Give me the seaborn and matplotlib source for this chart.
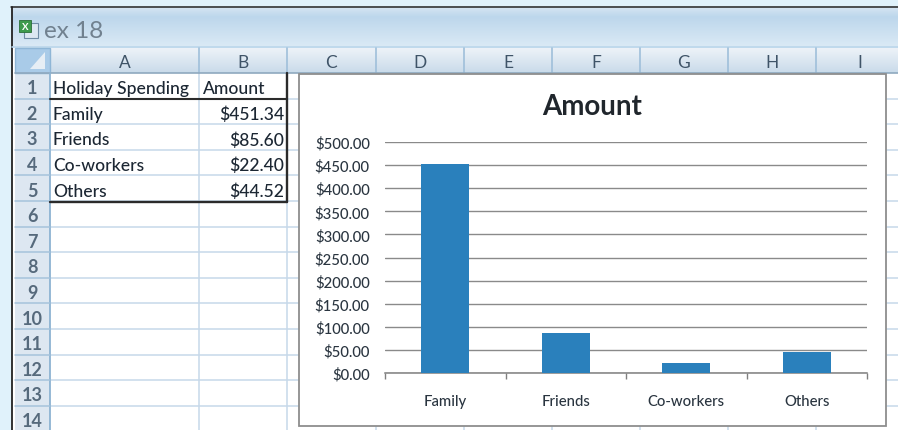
import numpy as np
import pandas as pd
import matplotlib.pyplot as plt
from matplotlib.patches import Rectangle, Polygon
import seaborn as sns

# --- DATA ---
categories = ["Family", "Friends", "Co-workers", "Others"]
amounts = [451.34, 85.60, 22.40, 44.52]
amount_labels = ["$451.34", "$85.60", "$22.40", "$44.52"]
y_ticks = [0, 50, 100, 150, 200, 250, 300, 350, 400, 450, 500]
table_header = ["Holiday Spending", "Amount"]
col_letters = ["A", "B", "C", "D", "E", "F", "G", "H", "I"]
row_numbers = list(range(1, 15))
chart_title = "Amount"
window_title = "ex 18"

# --- LAYOUT (pixels) ---
W, H = 898, 431
col_edges = [50, 199, 287, 376, 464, 552, 640, 728, 816, 904]
row_top = 74
row_h = 25.6
grid_c = "#C6D8E9"
font = "Lato"

sns.set_theme(style="white")
plt.rcParams['font.family'] = [font, 'DejaVu Sans']

fig = plt.figure(figsize=(W / 100, H / 100), dpi=100)
fig.patch.set_facecolor("#E0F2FB")

# --- Spreadsheet window behind the chart ---
bg = fig.add_axes([0, 0, 1, 1])
bg.set_xlim(0, W)
bg.set_ylim(H, 0)
bg.axis("off")


def gradient(x0, x1, y0, y1, top, bottom):
    grad = sns.blend_palette([top, bottom], 32)
    img = np.array(grad).reshape(32, 1, 3)
    bg.imshow(img, extent=[x0, x1, y1, y0], aspect="auto", zorder=1)


bg.add_patch(Rectangle((12, 9), W, H, fc="white", ec="none", zorder=0.5))
gradient(12, W, 9, 18, "#D3E4F2", "#BDD7EC")
gradient(12, W, 18, 47, "#BDD7EC", "#DAE9F5")
bg.plot([11, W], [8, 8], color="#222222", lw=1.1, zorder=3)
bg.plot([11.5, 11.5], [8, H], color="#222222", lw=1.3, zorder=3)
bg.plot([12, W], [47.5, 47.5], color="#B4D2E9", lw=1.2, zorder=3)

# excel icon
bg.add_patch(Rectangle((24, 24), 14, 15, fc="#DCE8F2", ec="#6F8CA5", lw=0.8, zorder=3))
bg.add_patch(Rectangle((19, 21), 12, 12, fc="#3E9A4D", ec="#2A6E38", lw=0.6, zorder=4))
bg.text(25, 27.5, "X", color="white", fontsize=7, fontweight="bold", ha="center", va="center", zorder=5)
bg.text(44, 31.5, window_title, color="#71818F", fontsize=17.5, ha="left", va="center", zorder=5)

# column header
gradient(50, W, 49, 74, "#EDF2F8", "#C9DBEA")
bg.add_patch(Rectangle((15, 49), 35, 25, fc="#A9CBE8", ec="#8FB6D6", lw=1, zorder=3))
bg.add_patch(Polygon([[45, 53], [45, 70], [30, 70]], fc="#E6EEF5", ec="none", zorder=4))
for i, letter in enumerate(col_letters):
    x0, x1 = col_edges[i], col_edges[i + 1]
    bg.plot([x1 - 0.5, x1 - 0.5], [49, 74], color="#9FBFDA", lw=1.2, zorder=3)
    xc = (x0 + x1) / 2 if i < 8 else 860
    bg.text(xc, 63, letter, color="#3F5468", fontsize=12.5, ha="center", va="center", zorder=5)
bg.plot([15, W], [74, 74], color="#8FA9BF", lw=1.2, zorder=3)

# row header and grid
bg.add_patch(Rectangle((15, 74), 35, H - 74, fc="#DDE7F1", ec="none", zorder=2))
bg.plot([50, 50], [74, H], color="#8DB3D2", lw=1.3, zorder=3)
for i, n in enumerate(row_numbers):
    y0 = row_top + i * row_h
    y1 = y0 + row_h
    bg.plot([15, 50], [y1, y1], color="#A5C3DC", lw=1.1, zorder=3)
    bg.plot([50, W], [y1, y1], color=grid_c, lw=1.1, zorder=2)
    bg.text(32, (y0 + y1) / 2 + 2, str(n), color="#3F5468", fontsize=13, fontweight="bold",
            ha="center", va="center", zorder=5, alpha=0.85)
for x in col_edges[1:-1]:
    bg.plot([x - 0.5, x - 0.5], [74, H], color=grid_c, lw=1.1, zorder=2)

# table cells
ink = "#1C2733"
cell_y = lambda r: row_top + (r + 0.5) * row_h + 2.5
bg.text(53, cell_y(0), table_header[0], color=ink, fontsize=12.6, fontweight="medium", va="center", zorder=5)
bg.text(203, cell_y(0), table_header[1], color=ink, fontsize=12.6, fontweight="medium", va="center", zorder=5)
for r, (cat, lab) in enumerate(zip(categories, amount_labels), start=1):
    bg.text(53, cell_y(r), cat, color=ink, fontsize=12.6, fontweight="medium", va="center", zorder=5)
    bg.text(284.5, cell_y(r), lab, color=ink, fontsize=12.6, fontweight="medium", ha="right", va="center", zorder=5)
bg.plot([50, 286.5], [100, 100], color="#2B2B2B", lw=1.5, zorder=6)
bg.plot([50, 286.5], [202.5, 202.5], color="#2B2B2B", lw=1.7, zorder=6)
bg.plot([286.5, 286.5], [74, 203], color="#2B2B2B", lw=1.7, zorder=6)

# chart area
bg.add_patch(Rectangle((298.5, 75), 587, 352, fc="white", ec="#8E8E8E", lw=1.3, zorder=7))
bg.text(592, 107.5, chart_title, color="#20262C", fontsize=20, fontweight="bold", ha="center", va="center", zorder=8)

# --- Bar chart ---
df = pd.DataFrame({"Category": categories, "Amount": amounts})
ax = fig.add_axes([385 / W, 1 - 374 / H, (867 - 385) / W, (374 - 143) / H], zorder=10)
ax.patch.set_alpha(0)
sns.barplot(data=df, x="Category", y="Amount", color="#2A80BC", saturation=1, width=0.4,
            linewidth=0, ax=ax, zorder=3)
ax.set_xlim(-0.5, 3.5)
ax.set_ylim(0, 500)
ax.set_xlabel("")
ax.set_ylabel("")
ax.set_yticks(y_ticks)
ax.set_yticklabels([f"${v:.2f}" for v in y_ticks], fontsize=10.7, fontweight="medium", color="#2A3540")
ax.set_xticks(np.arange(-0.5, 4, 1))
ax.set_xticklabels([])
ax.set_xticks(range(4), labels=categories, minor=True)
for lab in ax.get_xticklabels(minor=True):
    lab.set_fontweight("medium")
ax.tick_params(axis="x", which="major", bottom=True, length=4, width=1, color="#808080")
ax.tick_params(axis="x", which="minor", bottom=False, pad=11, labelsize=10.7, labelcolor="#2A3540")
ax.tick_params(axis="y", left=False, pad=5)
ax.grid(axis="y", color="#8A8A8A", lw=1)
ax.set_axisbelow(True)
for side in ["top", "left", "right"]:
    ax.spines[side].set_visible(False)
ax.spines["bottom"].set_color("#808080")
ax.spines["bottom"].set_linewidth(1.1)

plt.savefig("out.png", dpi=100, facecolor=fig.get_facecolor())
plt.close()
